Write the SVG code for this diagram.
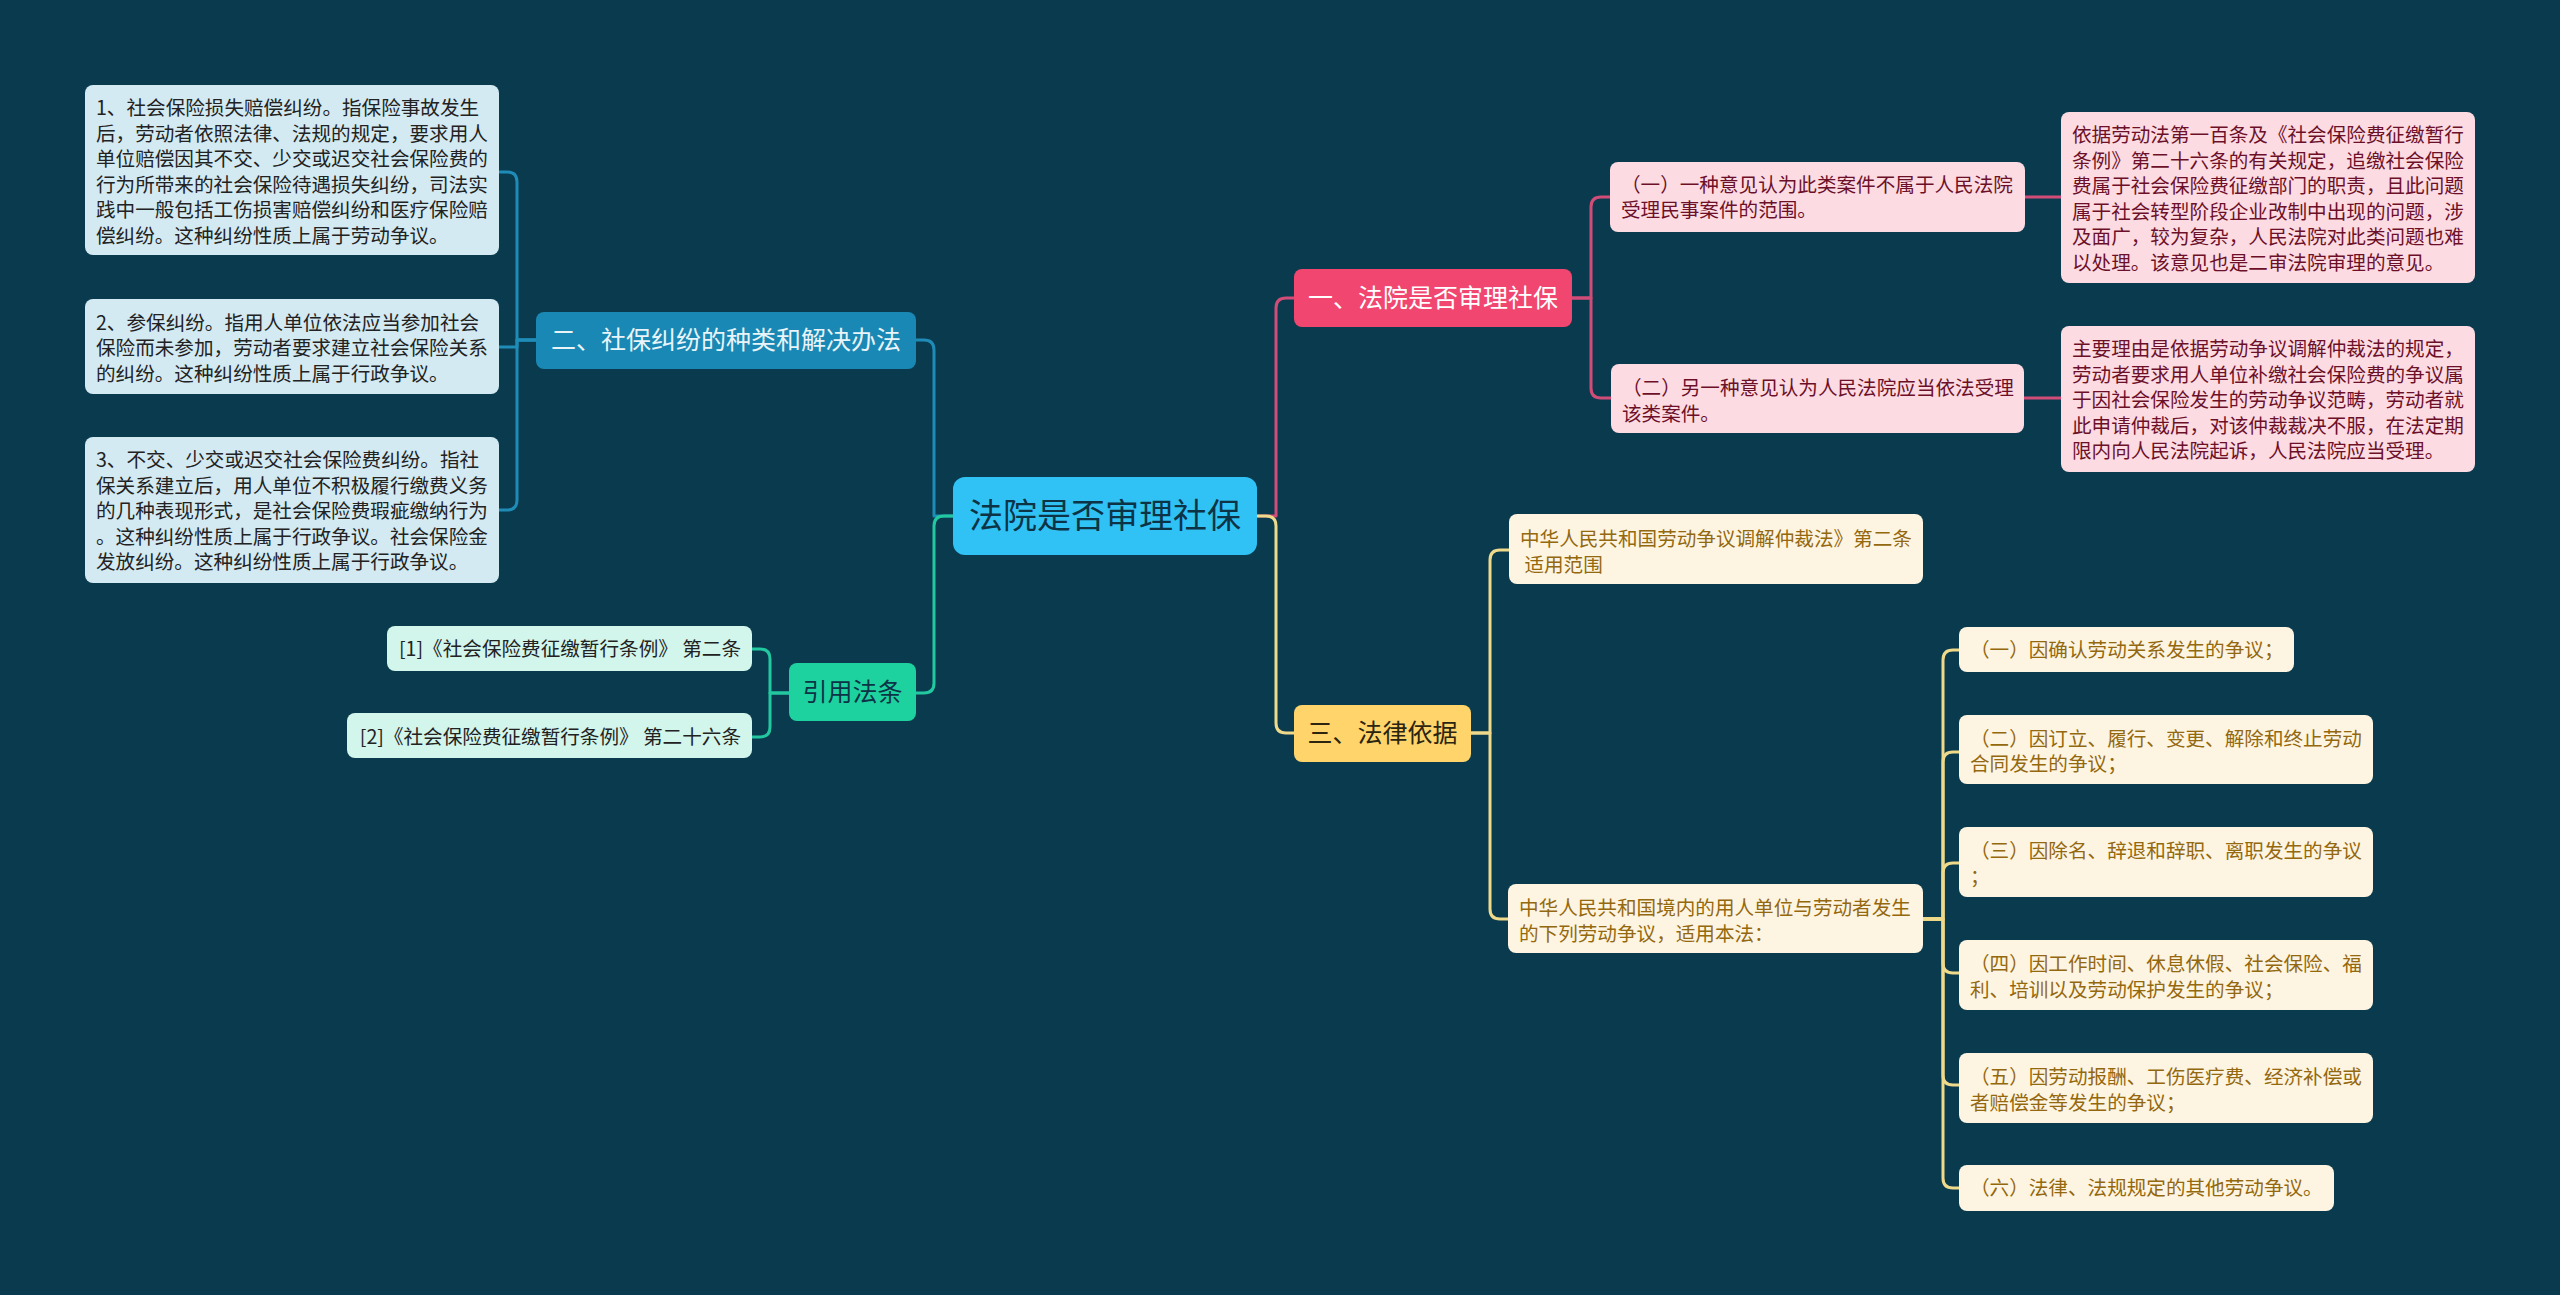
<svg xmlns="http://www.w3.org/2000/svg" width="2560" height="1295" viewBox="0 0 2560 1295">
<style>
text{font-family:"Noto Sans CJK SC","Noto Sans",sans-serif;}
.t{font-size:19.6px;}
.l1{font-size:25px;}
.c{stroke-width:3;fill:none;stroke-linejoin:round;}
.blue{stroke:#1e8cb6;}
.teal{stroke:#22c9a0;}
.pink{stroke:#d24c78;}
.yel{stroke:#efd98a;}
.bl{fill:#d3eaf2;}
.tl{fill:#d2f5ec;}
.pk{fill:#fcdbe3;}
.yw{fill:#fdf5e1;}
.dk{fill:#222222;}
.pt{fill:#6c1029;}
.yt{fill:#94680f;}
</style>
<rect x="0" y="0" width="2560" height="1295" fill="#0a3a4e"/>
<g id="connectors">
<path class="c blue" d="M953,516 H934 V350 Q934,340 924,340 H916"/>
<path class="c teal" d="M953,516 H944 Q934,516 934,526 V683 Q934,693 924,693 H916"/>
<path class="c pink" d="M1257,516 H1276 V308 Q1276,298 1286,298 H1294"/>
<path class="c yel" d="M1257,516 H1266 Q1276,516 1276,526 V723 Q1276,733 1286,733 H1294"/>
<path class="c blue" d="M536,340 H517 V182 Q517,172 507,172 H499"/>
<path class="c blue" d="M536,340 H517 V347 H499"/>
<path class="c blue" d="M536,340 H517 V500 Q517,510 507,510 H499"/>
<path class="c teal" d="M789,693 H770 V659 Q770,649 760,649 H752"/>
<path class="c teal" d="M789,693 H770 V727 Q770,737 760,737 H752"/>
<path class="c pink" d="M1572,298 H1591 V207 Q1591,197 1601,197 H1610"/>
<path class="c pink" d="M1572,298 H1591 V388 Q1591,398 1601,398 H1611"/>
<path class="c pink" d="M2025,197 H2061"/>
<path class="c pink" d="M2024,398 H2061"/>
<path class="c yel" d="M1471,733 H1490 V560 Q1490,550 1500,550 H1509"/>
<path class="c yel" d="M1471,733 H1490 V909 Q1490,919 1500,919 H1508"/>
<path class="c yel" d="M1923,919 H1943 V660 Q1943,650 1953,650 H1959"/>
<path class="c yel" d="M1923,919 H1943 V762 Q1943,752 1953,752 H1959"/>
<path class="c yel" d="M1923,919 H1943 V873 Q1943,863 1953,863 H1959"/>
<path class="c yel" d="M1923,919 H1943 V963 Q1943,973 1953,973 H1959"/>
<path class="c yel" d="M1923,919 H1943 V1075 Q1943,1085 1953,1085 H1959"/>
<path class="c yel" d="M1923,919 H1943 V1178 Q1943,1188 1953,1188 H1959"/>
</g>
<g id="center">
<rect x="953" y="477" width="304" height="78" rx="12" fill="#30c2f4"/>
<text x="1105" y="528" font-size="34" text-anchor="middle" fill="#0d3446">法院是否审理社保</text>
</g>
<g id="n2">
<rect x="536" y="312" width="380" height="57" rx="8" fill="#1a88b4"/>
<text class="l1" x="726" y="349" text-anchor="middle" fill="#e8f4f8">二、社保纠纷的种类和解决办法</text>
</g>
<g id="n2a">
<rect class="bl" x="85" y="85" width="414" height="170" rx="8"/>
<text class="t dk" x="96"><tspan x="96" y="115">1、社会保险损失赔偿纠纷。指保险事故发生</tspan><tspan x="96" y="140.5">后，劳动者依照法律、法规的规定，要求用人</tspan><tspan x="96" y="166">单位赔偿因其不交、少交或迟交社会保险费的</tspan><tspan x="96" y="191.5">行为所带来的社会保险待遇损失纠纷，司法实</tspan><tspan x="96" y="217">践中一般包括工伤损害赔偿纠纷和医疗保险赔</tspan><tspan x="96" y="242.5">偿纠纷。这种纠纷性质上属于劳动争议。</tspan></text>
</g>
<g id="n2b">
<rect class="bl" x="85" y="299" width="414" height="95" rx="8"/>
<text class="t dk"><tspan x="96" y="329.5">2、参保纠纷。指用人单位依法应当参加社会</tspan><tspan x="96" y="355">保险而未参加，劳动者要求建立社会保险关系</tspan><tspan x="96" y="380.5">的纠纷。这种纠纷性质上属于行政争议。</tspan></text>
</g>
<g id="n2c">
<rect class="bl" x="85" y="437" width="414" height="146" rx="8"/>
<text class="t dk"><tspan x="96" y="467">3、不交、少交或迟交社会保险费纠纷。指社</tspan><tspan x="96" y="492.5">保关系建立后，用人单位不积极履行缴费义务</tspan><tspan x="96" y="518">的几种表现形式，是社会保险费瑕疵缴纳行为</tspan><tspan x="96" y="543.5">。这种纠纷性质上属于行政争议。社会保险金</tspan><tspan x="96" y="569">发放纠纷。这种纠纷性质上属于行政争议。</tspan></text>
</g>
<g id="n4">
<rect x="789" y="663" width="127" height="58" rx="8" fill="#1ed2a0"/>
<text class="l1" x="852.5" y="701" text-anchor="middle" fill="#0d3446">引用法条</text>
</g>
<g id="n4a">
<rect class="tl" x="387" y="626" width="365" height="45" rx="8"/>
<text class="t dk" x="741" y="656" text-anchor="end">[1]《社会保险费征缴暂行条例》 第二条</text>
</g>
<g id="n4b">
<rect class="tl" x="347" y="713" width="405" height="45" rx="8"/>
<text class="t dk" x="741" y="744" text-anchor="end">[2]《社会保险费征缴暂行条例》 第二十六条</text>
</g>
<g id="n1">
<rect x="1294" y="269" width="278" height="58" rx="8" fill="#f0466f"/>
<text class="l1" x="1433" y="307" text-anchor="middle" fill="#ffffff">一、法院是否审理社保</text>
</g>
<g id="n1a">
<rect class="pk" x="1610" y="162" width="415" height="70" rx="8"/>
<text class="t pt"><tspan x="1621" y="191.5">（一）一种意见认为此类案件不属于人民法院</tspan><tspan x="1621" y="217">受理民事案件的范围。</tspan></text>
</g>
<g id="n1a1">
<rect class="pk" x="2061" y="112" width="414" height="171" rx="8"/>
<text class="t pt"><tspan x="2072" y="142">依据劳动法第一百条及《社会保险费征缴暂行</tspan><tspan x="2072" y="167.5">条例》第二十六条的有关规定，追缴社会保险</tspan><tspan x="2072" y="193">费属于社会保险费征缴部门的职责，且此问题</tspan><tspan x="2072" y="218.5">属于社会转型阶段企业改制中出现的问题，涉</tspan><tspan x="2072" y="244">及面广，较为复杂，人民法院对此类问题也难</tspan><tspan x="2072" y="269.5">以处理。该意见也是二审法院审理的意见。</tspan></text>
</g>
<g id="n1b">
<rect class="pk" x="1611" y="364" width="413" height="69" rx="8"/>
<text class="t pt"><tspan x="1622" y="395">（二）另一种意见认为人民法院应当依法受理</tspan><tspan x="1622" y="420.5">该类案件。</tspan></text>
</g>
<g id="n1b1">
<rect class="pk" x="2061" y="326" width="414" height="146" rx="8"/>
<text class="t pt"><tspan x="2072" y="356">主要理由是依据劳动争议调解仲裁法的规定，</tspan><tspan x="2072" y="381.5">劳动者要求用人单位补缴社会保险费的争议属</tspan><tspan x="2072" y="407">于因社会保险发生的劳动争议范畴，劳动者就</tspan><tspan x="2072" y="432.5">此申请仲裁后，对该仲裁裁决不服，在法定期</tspan><tspan x="2072" y="458">限内向人民法院起诉，人民法院应当受理。</tspan></text>
</g>
<g id="n3">
<rect x="1294" y="705" width="177" height="57" rx="8" fill="#fed46b"/>
<text class="l1" x="1382.5" y="742" text-anchor="middle" fill="#2a2410">三、法律依据</text>
</g>
<g id="n3a">
<rect class="yw" x="1509" y="514" width="414" height="70" rx="8"/>
<text class="t yt" xml:space="preserve"><tspan x="1520" y="546">中华人民共和国劳动争议调解仲裁法》第二条</tspan><tspan x="1520" y="571.5"> 适用范围</tspan></text>
</g>
<g id="n3b">
<rect class="yw" x="1508" y="884" width="415" height="69" rx="8"/>
<text class="t yt"><tspan x="1519" y="915">中华人民共和国境内的用人单位与劳动者发生</tspan><tspan x="1519" y="940.5">的下列劳动争议，适用本法：</tspan></text>
</g>
<g id="n3b1">
<rect class="yw" x="1959" y="627" width="335" height="45" rx="8"/>
<text class="t yt" x="1970" y="657">（一）因确认劳动关系发生的争议；</text>
</g>
<g id="n3b2">
<rect class="yw" x="1959" y="715" width="414" height="69" rx="8"/>
<text class="t yt"><tspan x="1970" y="745.5">（二）因订立、履行、变更、解除和终止劳动</tspan><tspan x="1970" y="771">合同发生的争议；</tspan></text>
</g>
<g id="n3b3">
<rect class="yw" x="1959" y="827" width="414" height="70" rx="8"/>
<text class="t yt"><tspan x="1970" y="858">（三）因除名、辞退和辞职、离职发生的争议</tspan><tspan x="1970" y="883.5">；</tspan></text>
</g>
<g id="n3b4">
<rect class="yw" x="1959" y="940" width="414" height="70" rx="8"/>
<text class="t yt"><tspan x="1970" y="971">（四）因工作时间、休息休假、社会保险、福</tspan><tspan x="1970" y="996.5">利、培训以及劳动保护发生的争议；</tspan></text>
</g>
<g id="n3b5">
<rect class="yw" x="1959" y="1053" width="414" height="70" rx="8"/>
<text class="t yt"><tspan x="1970" y="1084">（五）因劳动报酬、工伤医疗费、经济补偿或</tspan><tspan x="1970" y="1109.5">者赔偿金等发生的争议；</tspan></text>
</g>
<g id="n3b6">
<rect class="yw" x="1959" y="1165" width="375" height="46" rx="8"/>
<text class="t yt" x="1970" y="1195">（六）法律、法规规定的其他劳动争议。</text>
</g>
</svg>
